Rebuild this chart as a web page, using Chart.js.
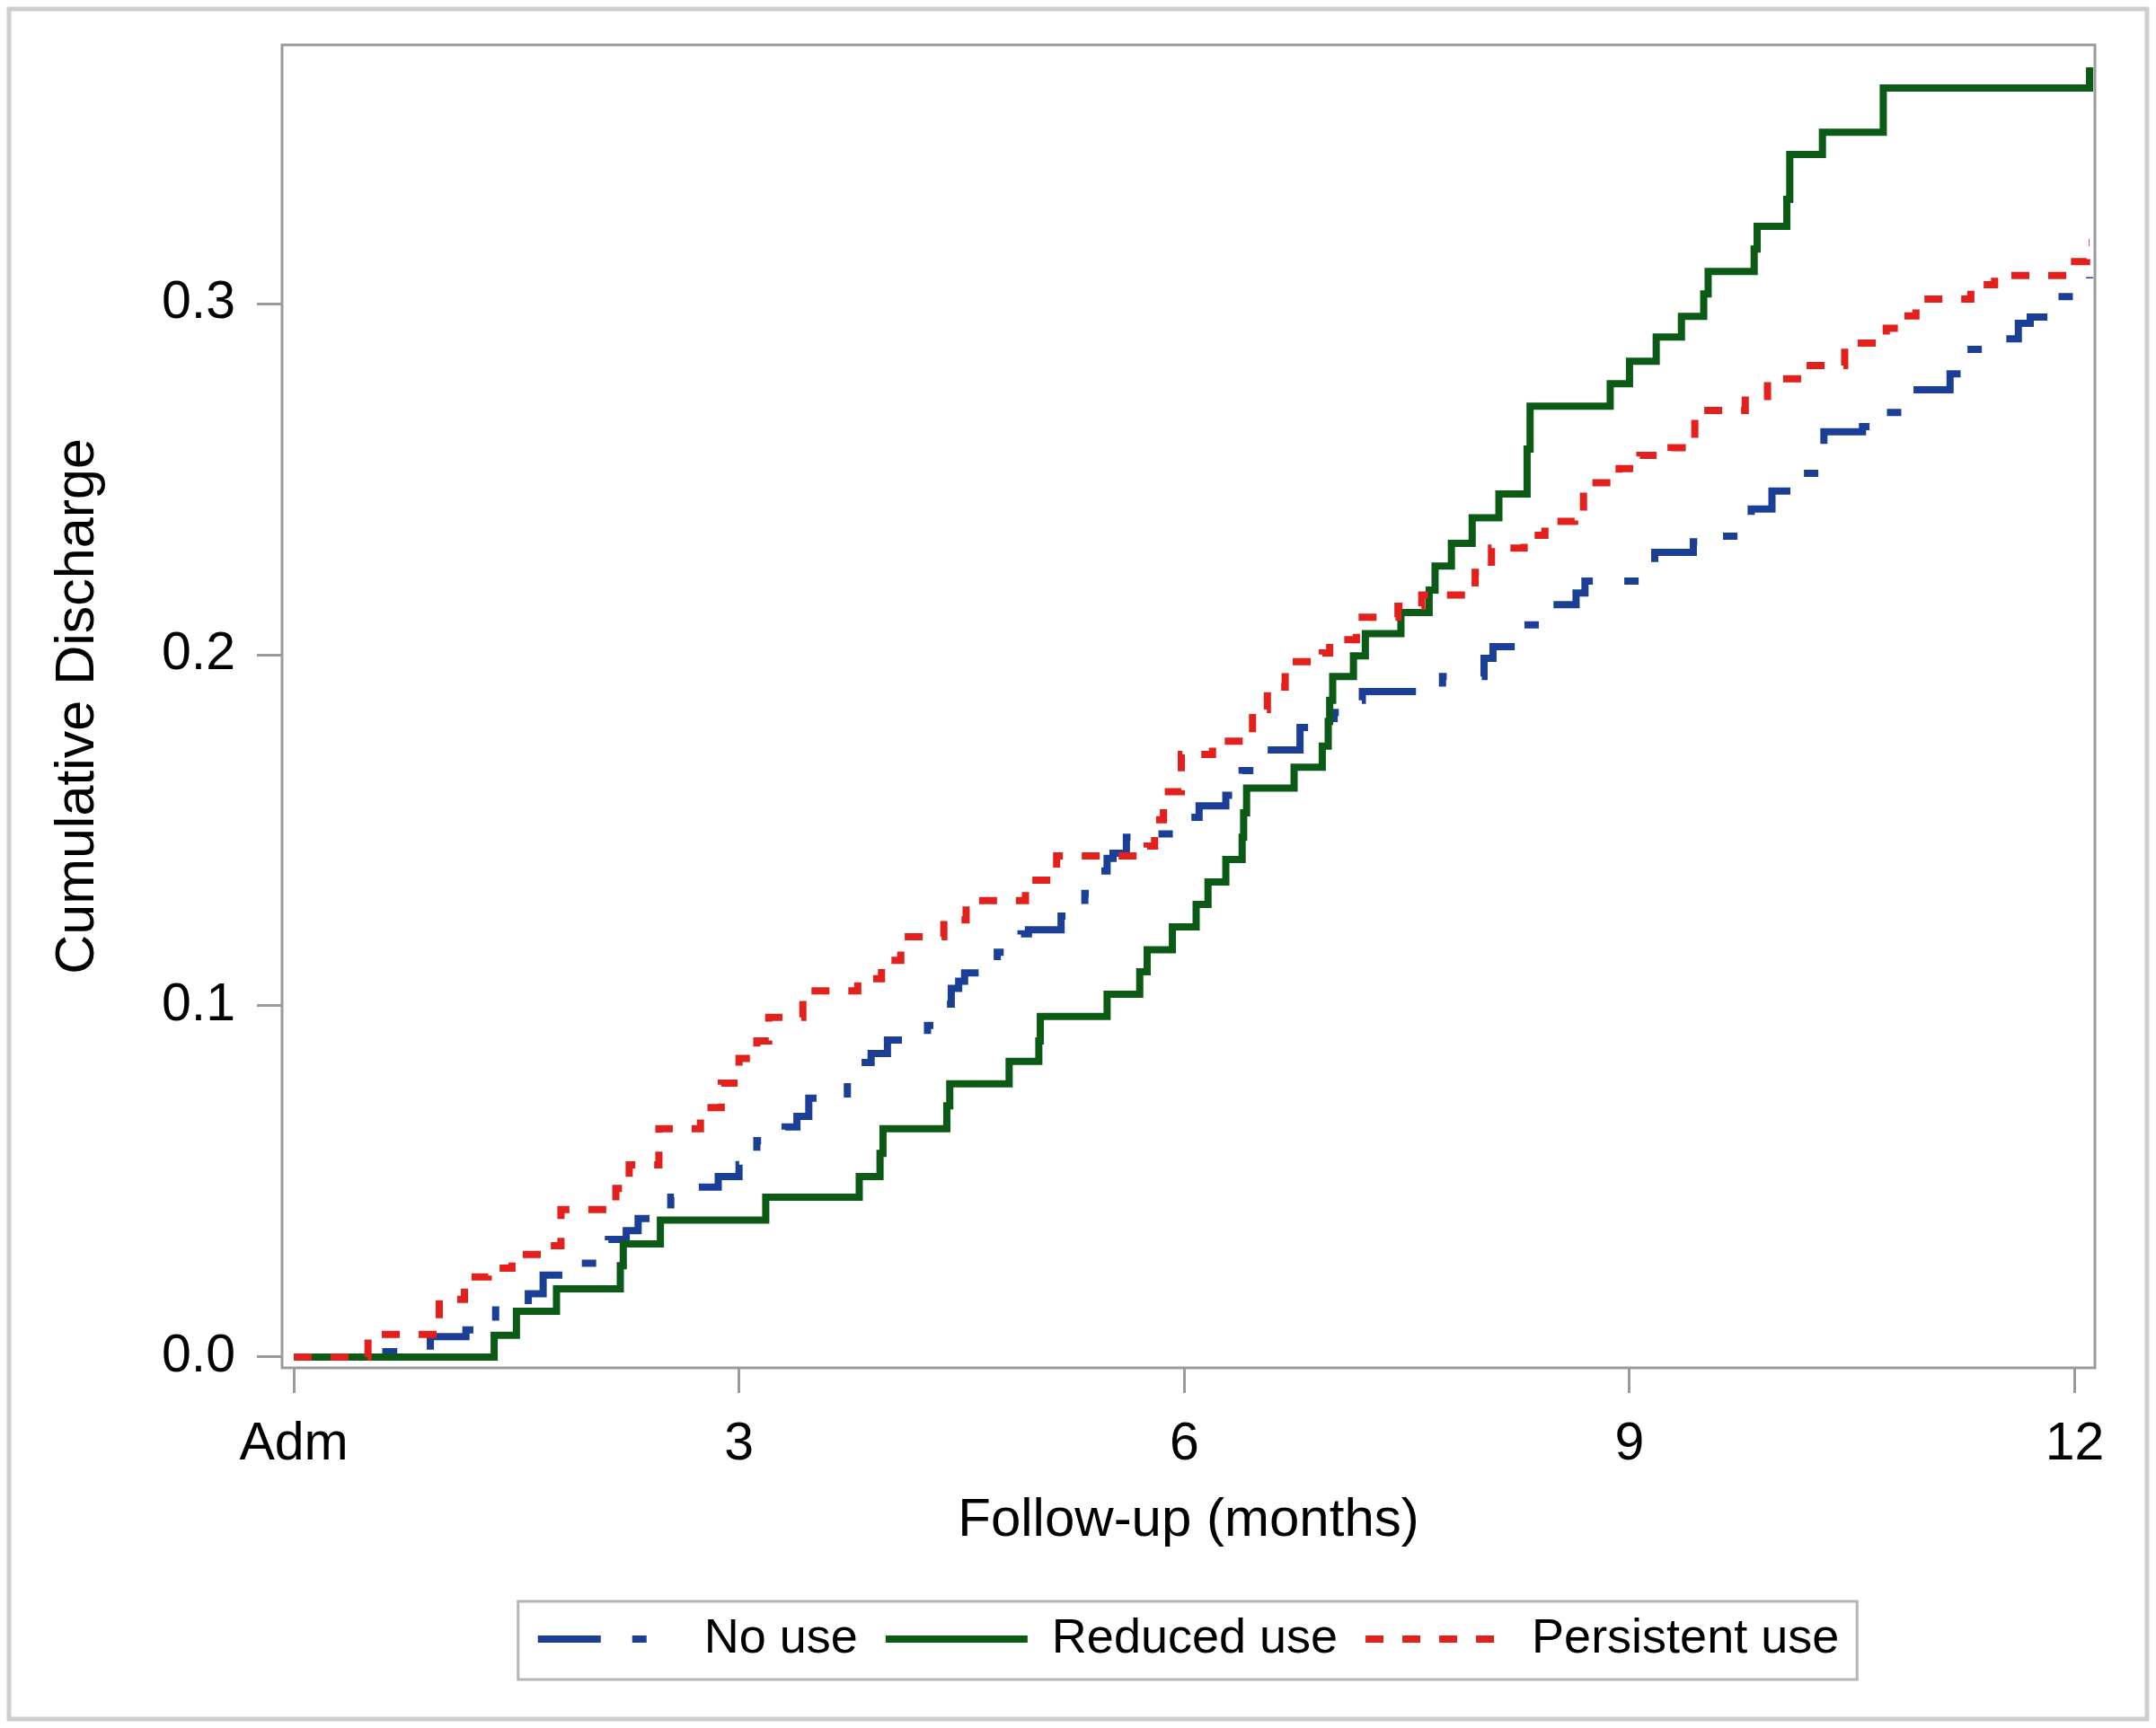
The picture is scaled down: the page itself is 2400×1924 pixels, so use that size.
<!DOCTYPE html>
<html>
<head>
<meta charset="utf-8">
<script src="https://cdn.jsdelivr.net/npm/chart.js@4.4.1/dist/chart.umd.min.js"></script>
<style>
  html, body { margin: 0; padding: 0; background: #ffffff; }
  #wrap { width: 2400px; height: 1924px; position: relative; }
</style>
</head>
<body>
<div id="wrap"><canvas id="myChart"></canvas></div>
<script>
// cumulative discharge (months, proportion)
var noUseMonths = [0, 0.62, 0.92, 1.16, 1.36, 1.58, 1.68, 1.90, 2.12, 2.24, 2.32, 2.54, 2.72, 2.86, 3.00, 3.12, 3.31, 3.39, 3.47, 3.73,
  3.82, 3.89, 4.00, 4.27, 4.39, 4.43, 4.48, 4.52, 4.74, 4.90, 4.95, 5.17, 5.33, 5.42, 5.48, 5.52, 5.61, 5.75, 6.01, 6.10,
  6.28, 6.39, 6.50, 6.78, 7.01, 7.16, 7.20, 7.74, 8.02, 8.08, 8.24, 8.44, 8.64, 8.70, 9.15, 9.17, 9.43, 9.55, 9.77, 9.82,
  9.96, 10.10, 10.29, 10.31, 10.57, 10.70, 10.85, 11.16, 11.27, 11.45, 11.62, 11.70, 11.86, 12.05, 12.10];
var noUseCum = [0, 0.0015, 0.0058, 0.0077, 0.0148, 0.0180, 0.0233, 0.0267, 0.0335, 0.0360, 0.0394, 0.0455, 0.0484, 0.0514, 0.0548, 0.0616, 0.0655, 0.0685, 0.0737, 0.0790,
  0.0839, 0.0864, 0.0903, 0.0944, 0.1005, 0.1050, 0.1070, 0.1094, 0.1153, 0.1205, 0.1217, 0.1256, 0.1320, 0.1384, 0.1420, 0.1435, 0.1480, 0.1490, 0.1537, 0.1570,
  0.1600, 0.1670, 0.1729, 0.1793, 0.1836, 0.1870, 0.1895, 0.1938, 0.1990, 0.2023, 0.2085, 0.2143, 0.2176, 0.2210, 0.2258, 0.2292, 0.2322, 0.2338, 0.2394, 0.2415,
  0.2466, 0.2517, 0.2600, 0.2635, 0.2650, 0.2690, 0.2755, 0.2800, 0.2870, 0.2900, 0.2944, 0.2962, 0.3020, 0.3066, 0.3076];

var reducedMonths = [0, 1.35, 1.50, 1.77, 2.20, 2.22, 2.47, 3.18, 3.81, 3.95, 3.97, 4.40, 4.42, 4.82, 5.02, 5.03, 5.48, 5.70, 5.75, 5.92,
  6.08, 6.16, 6.28, 6.39, 6.40, 6.42, 6.74, 6.93, 6.97, 6.98, 7.00, 7.14, 7.22, 7.46, 7.65, 7.69, 7.80, 7.94, 8.12, 8.31,
  8.33, 8.87, 9.00, 9.18, 9.35, 9.50, 9.53, 9.84, 9.86, 10.06, 10.08, 10.30, 10.71, 12.10];
var reducedCum = [0, 0.0062, 0.0130, 0.0194, 0.0260, 0.0322, 0.0390, 0.0455, 0.0514, 0.0580, 0.0650, 0.0715, 0.0778, 0.0842, 0.0900, 0.0970, 0.1033, 0.1097, 0.1160, 0.1225,
  0.1289, 0.1353, 0.1417, 0.1480, 0.1550, 0.1620, 0.1680, 0.1740, 0.1810, 0.1870, 0.1938, 0.1997, 0.2060, 0.2120, 0.2184, 0.2253, 0.2317, 0.2390, 0.2458, 0.2586,
  0.2708, 0.2772, 0.2836, 0.2905, 0.2964, 0.3028, 0.3092, 0.3156, 0.3220, 0.3297, 0.3425, 0.3488, 0.3614, 0.3673];

var persistentMonths = [0, 0.50, 0.98, 1.15, 1.31, 1.47, 1.64, 1.80, 2.17, 2.26, 2.46, 2.74, 2.88, 3.00, 3.12, 3.20, 3.43, 3.80, 3.96, 4.09,
  4.38, 4.53, 4.93, 5.14, 5.75, 5.80, 5.86, 5.98, 6.19, 6.40, 6.46, 6.56, 6.68, 6.93, 6.98, 7.16, 7.44, 7.60, 7.96, 8.07,
  8.29, 8.43, 8.63, 8.69, 8.93, 9.07, 9.28, 9.44, 9.78, 9.93, 10.16, 10.45, 10.73, 10.85, 10.93, 11.30, 11.46, 11.96, 12.08, 12.10];
var persistentCum = [0, 0.0064, 0.0164, 0.0228, 0.0253, 0.0292, 0.0317, 0.0420, 0.0480, 0.0547, 0.0650, 0.0710, 0.0780, 0.0850, 0.0900, 0.0967, 0.1043, 0.1077, 0.1130, 0.1197,
  0.1245, 0.1300, 0.1358, 0.1427, 0.1455, 0.1530, 0.1610, 0.1716, 0.1754, 0.1790, 0.1844, 0.1908, 0.1980, 0.2005, 0.2043, 0.2107, 0.2138, 0.2170, 0.2235, 0.2304,
  0.2340, 0.2380, 0.2405, 0.2490, 0.2530, 0.2568, 0.2590, 0.2696, 0.2725, 0.2786, 0.2824, 0.2888, 0.2930, 0.2965, 0.3013, 0.3054, 0.3080, 0.3120, 0.3174, 0.3174];

var xTicks = [0, 3, 6, 9, 12];
var yTicks = [0, 0.1, 0.2, 0.3];
var legends = ['No use', 'Reduced use', 'Persistent use'];

var FONT = "'Liberation Sans', Arial, Helvetica, sans-serif";
var AXIS_GRAY = '#9b9b9b';

function toPoints(months, cum) {
  return months.map(function (m, i) {
    return { x: m, y: cum[i] };
  });
}

// white page, outer frame, plot frame and the box round the legend
var framePlugin = {
  id: 'frames',
  beforeDraw: function (chart) {
    var ctx = chart.ctx;
    ctx.save();
    ctx.fillStyle = '#ffffff';
    ctx.fillRect(0, 0, chart.width, chart.height);
    ctx.strokeStyle = '#cdcdcd';
    ctx.lineWidth = 5;
    ctx.strokeRect(10, 10, chart.width - 20, chart.height - 20);
    ctx.restore();
  },
  beforeDatasetsDraw: function (chart) {
    var a = chart.chartArea;
    var ctx = chart.ctx;
    ctx.save();
    ctx.strokeStyle = AXIS_GRAY;
    ctx.lineWidth = 3;
    ctx.strokeRect(a.left, a.top, a.right - a.left, a.bottom - a.top);
    ctx.restore();
  },
  afterDraw: function (chart) {
    var lg = chart.legend;
    if (!lg || !lg.lineWidths) return;
    var pad = lg.options.labels.padding;
    var size = lg.options.labels.font.size;
    var startX = (lg.left + pad + lg.right - lg.lineWidths[0]) / 2;
    var endX = startX + lg.lineWidths[0] - pad;
    var cy = lg.top + pad + size / 2;
    var ctx = chart.ctx;
    ctx.save();
    ctx.strokeStyle = '#b5b5b5';
    ctx.lineWidth = 3;
    ctx.strokeRect(startX - 22, cy - 42, endX - startX + 42, 87);
    ctx.restore();
  }
};

const data = {
  datasets: [{
    label: legends[0],
    data: toPoints(noUseMonths, noUseCum),
    borderColor: '#1b3f97',
    backgroundColor: '#1b3f97',
    borderWidth: 8,
    borderDash: [70, 35, 16, 39],
    stepped: true,
    pointRadius: 0,
    fill: false,
    order: 3
  }, {
    label: legends[1],
    data: toPoints(reducedMonths, reducedCum),
    borderColor: '#0b5a16',
    backgroundColor: '#0b5a16',
    borderWidth: 8,
    borderDash: [],
    stepped: true,
    pointRadius: 0,
    fill: false,
    order: 2
  }, {
    label: legends[2],
    data: toPoints(persistentMonths, persistentCum),
    borderColor: '#e3201b',
    backgroundColor: '#e3201b',
    borderWidth: 8,
    borderDash: [20, 21],
    stepped: true,
    pointRadius: 0,
    fill: false,
    order: 1
  }]
};

const config = {
  type: 'line',
  data: data,
  options: {
    responsive: true,
    maintainAspectRatio: false,
    animation: false,
    devicePixelRatio: 1,
    layout: {
      padding: { left: 20, right: 68, top: 50, bottom: 62 }
    },
    scales: {
      x: {
        type: 'linear',
        min: -0.079,
        max: 12.136,
        afterBuildTicks: function (scale) {
          scale.ticks = xTicks.map(function (v) { return { value: v }; });
        },
        afterFit: function (scale) {
          scale.height = 244;
          scale.paddingLeft = 0;
          scale.paddingRight = 0;
        },
        border: { display: false },
        grid: {
          drawOnChartArea: false,
          drawTicks: true,
          tickLength: 28,
          color: AXIS_GRAY,
          lineWidth: 3
        },
        ticks: {
          autoSkip: false,
          maxRotation: 0,
          padding: 22,
          color: '#000000',
          font: { family: FONT, size: 59 },
          callback: function (v) { return v === 0 ? 'Adm' : String(v); }
        },
        title: {
          display: true,
          text: 'Follow-up (months)',
          color: '#000000',
          font: { family: FONT, size: 60 },
          padding: { top: 0, bottom: 38 }
        }
      },
      y: {
        type: 'linear',
        min: -0.0031,
        max: 0.3737,
        afterBuildTicks: function (scale) {
          scale.ticks = yTicks.map(function (v) { return { value: v }; });
        },
        afterFit: function (scale) {
          // keep the plot box where the layout padding puts it
          scale.width = 294;
          scale.paddingTop = 0;
          scale.paddingBottom = 0;
        },
        border: { display: false },
        grid: {
          drawOnChartArea: false,
          drawTicks: true,
          tickLength: 28,
          color: AXIS_GRAY,
          lineWidth: 3
        },
        ticks: {
          autoSkip: false,
          padding: 24,
          color: '#000000',
          font: { family: FONT, size: 59 },
          callback: function (v) { return v.toFixed(1); }
        },
        title: {
          display: true,
          text: 'Cumulative Discharge',
          color: '#000000',
          font: { family: FONT, size: 61 },
          padding: { top: 31, bottom: 0 }
        }
      }
    },
    plugins: {
      legend: {
        position: 'bottom',
        fullSize: false,
        labels: {
          usePointStyle: true,
          pointStyleWidth: 158,
          padding: 31,
          color: '#000000',
          font: { family: FONT, size: 54 },
          generateLabels: function (chart) {
            return chart.data.datasets.map(function (ds, i) {
              return {
                text: ds.label,
                datasetIndex: i,
                strokeStyle: ds.borderColor,
                fillStyle: ds.borderColor,
                fontColor: '#000000',
                lineWidth: ds.borderWidth,
                lineDash: ds.borderDash,
                lineCap: 'butt',
                pointStyle: 'line',
                rotation: 180,
                hidden: false
              };
            });
          }
        }
      },
      title: { display: false },
      tooltip: { enabled: false }
    }
  },
  plugins: [framePlugin]
};

var myChart = new Chart(
  document.getElementById('myChart'),
  config
);
</script>
</body>
</html>
